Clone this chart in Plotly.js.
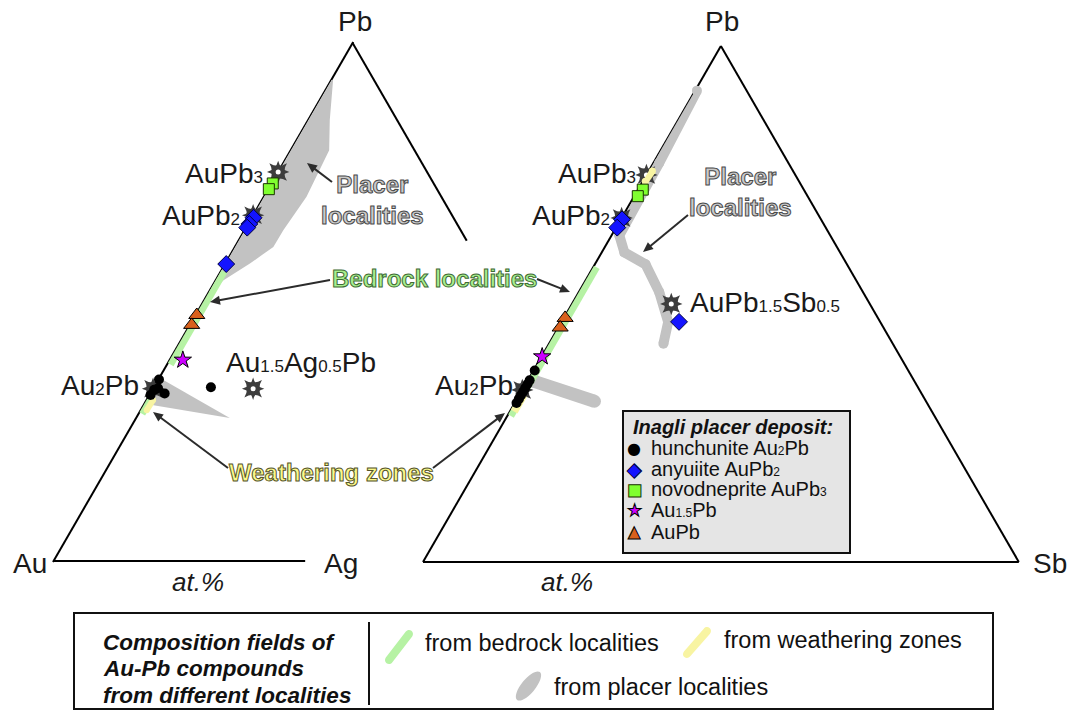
<!DOCTYPE html>
<html><head><meta charset="utf-8">
<script src="https://cdn.plot.ly/plotly-3.0.1.min.js"></script>
<style>html,body{margin:0;padding:0;background:#fff}#chart{width:1073px;height:710px}</style>
</head><body><div id="chart"></div>
<script>
// ===== DATA: a = Pb fraction, c = Ag (left) or Sb (right) fraction; Au = 1 - a - c =====
// ---- Left diagram: Au-Pb-Ag ----
const agHunchuniteA = [0.351, 0.334, 0.324, 0.321, 0.331, 0.336];
const agHunchuniteC = [0.001, 0.008, 0.024, 0.002, 0.003, 0.095];
const agAnyuiiteA = [0.662, 0.650, 0.643, 0.573];
const agAnyuiiteC = [0.003, 0.002, 0.002, 0.002];
const agNovodnepriteA = [0.728, 0.717];
const agNovodnepriteC = [0.002, 0.001];
const agAu15PbA = [0.3885];
const agAu15PbC = [0.022];
const agAuPbA = [0.475, 0.456];
const agAuPbC = [0.002, 0.003];
const agIdealA = [0.75, 0.6667, 0.3333, 0.3333];   // AuPb3, AuPb2, Au2Pb, Au1.5Ag0.5Pb
const agIdealC = [0, 0, 0, 0.1667];
const agPlacerFieldA = [0.927, 0.850, 0.792, 0.7025, 0.638, 0.606, 0.574, 0.542, 0.519, 0.519, 0.927];
const agPlacerFieldC = [0.003, 0.036, 0.064, 0.071, 0.0646, 0.064, 0.041, 0.013, 0.005, 0, 0];
const agPlacerWedgeA = [0.354, 0.277, 0.302, 0.354];
const agPlacerWedgeC = [0.001, 0.156, 0.014, 0.001];
const agBedrock1A = [0.5615, 0.3827];
const agBedrock1C = [0, 0];
const agBedrock2A = [0.319, 0.288];
const agBedrock2C = [0, 0];
const agWeatherA = [0.3115, 0.292];
const agWeatherC = [0.011, 0.010];
const agEdgeBottomA = [0, 0];      // drawn part of the Au-Ag side
const agEdgeBottomC = [0, 0.42];
const agEdgeRightA = [1, 0.619];   // drawn part of the Pb-Ag side
const agEdgeRightC = [0, 0.381];

// ---- Right diagram: Au-Pb-Sb ----
const sbHunchuniteA = [0.371, 0.352, 0.345, 0.337, 0.330, 0.323, 0.316, 0.308];
const sbHunchuniteC = [0.002, 0.003, 0.003, 0.003, 0.003, 0.003, 0.003, 0.003];
const sbAnyuiiteA = [0.664, 0.648, 0.4654];
const sbAnyuiiteC = [0.002, 0.002, 0.197];
const sbNovodnepriteA = [0.7217, 0.709];
const sbNovodnepriteC = [0.008, 0.006];
const sbAu15PbA = [0.398];
const sbAu15PbC = [0.001];
const sbAuPbA = [0.473, 0.4544];
const sbAuPbC = [0.002, 0.003];
const sbIdealA = [0.75, 0.6667, 0.3333, 0.5];      // AuPb3, AuPb2, Au2Pb, AuPb1.5Sb0.5
const sbIdealC = [0, 0, 0, 0.1667];
const sbPlacer1A = [0.9135, 0.773, 0.633, 0.600, 0.577, 0.523, 0.465, 0.423];
const sbPlacer1C = [0.003, 0.0097, 0.013, 0.038, 0.085, 0.135, 0.179, 0.192];
const sbPlacer2A = [0.350, 0.3115];
const sbPlacer2C = [0.0116, 0.132];
const sbBedrockA = [0.574, 0.286];
const sbBedrockC = [0, 0];
const sbWeather1A = [0.758, 0.738];
const sbWeather1C = [0.006, 0.004];
const sbWeather2A = [0.325, 0.293];
const sbWeather2C = [0.004, 0.004];

// ---- text ----
// formulas as [element, count, element, count, ...]; count '' = no subscript
const mineralLabels = [['hunchunite Au', '2', 'Pb', ''], ['anyuiite AuPb', '2'], ['novodneprite AuPb', '3'], ['Au', '1.5', 'Pb', ''], ['AuPb', '']];
const legendTitle = 'Inagli placer deposit:';
const fieldTitle = ['Composition fields of', 'Au-Pb compounds', 'from different localities'];
const fieldNames = ['from bedrock localities', 'from weathering zones', 'from placer localities'];

// ===== STYLE =====
const W = 1073, H = 710;
const FONT = 'Liberation Sans, Arial, Helvetica, sans-serif';
const GRAY = '#c2c2c2', GREEN = '#b6f2a4', YELLOW = '#f8f4a2', GEAR = '#3d3d3d', ARROW = '#2b2b2b';
const STY = [
  {symbol: 'circle', size: 10, color: '#000'},
  {symbol: 'diamond', size: 13, color: '#1414ff', line: {color: '#000040', width: 1}},
  {symbol: 'square', size: 11, color: '#80ff30', line: {color: '#1a3300', width: 1}},
  {symbol: 'star', size: 13, color: '#cc00ff', line: {color: '#000', width: 1}},
  {symbol: 'triangle-up', size: 14, color: '#d9601c', line: {color: '#000', width: 1}}
];
const GLYPH = [
  {g: '\u25CF', size: 16, color: '#000', stroke: null},
  {g: '\u25C6', size: 19, color: '#1414ff', stroke: '#000040'},
  {g: '\u25A0', size: 16, color: '#80ff30', stroke: '#1a3300'},
  {g: '\u2605', size: 17, color: '#cc00ff', stroke: '#000'},
  {g: '\u25B2', size: 16, color: '#d9601c', stroke: '#000'}
];
// chemical formula with small baseline subscripts
function chem(parts, subSize) {
  let s = '';
  for (let i = 0; i < parts.length; i += 2) {
    s += parts[i];
    if (parts[i + 1]) s += '<span style="font-size:' + subSize + 'px">' + parts[i + 1] + '</span>';
  }
  return s;
}

const traces = [];
function T(sub, a, c, props) {
  traces.push(Object.assign({type: 'scatterternary', subplot: sub, a: a, c: c,
    hoverinfo: 'skip', cliponaxis: false, showlegend: false}, props));
}
function gears(sub, A, C) {
  T(sub, A, C, {mode: 'markers', marker: {symbol: 'star-square', size: 16, color: GEAR}});
  T(sub, A, C, {mode: 'markers', marker: {symbol: 'star-diamond', size: 16, color: GEAR}});
  T(sub, A, C, {mode: 'markers', marker: {symbol: 'circle', size: 11, color: GEAR}});
  T(sub, A, C, {mode: 'markers', marker: {symbol: 'circle', size: 5, color: '#fff'}});
}
function field(sub, A, C) {
  T(sub, A, C, {mode: 'lines', fill: 'toself', fillcolor: GRAY, line: {width: 0, color: GRAY}});
}
function band(sub, A, C, color, w) {      // free-standing band with round ends
  T(sub, A, C, {mode: 'lines+markers', line: {color: color, width: w}, marker: {size: w, color: color}});
}
function edgeBand(sub, A, C, color, w) {  // band lying on a side of the triangle
  T(sub, A, C, {mode: 'lines', line: {color: color, width: w}});
}
function minerals(sub, sets) {
  sets.forEach((s, i) => {
    T(sub, s[0], s[1], {mode: 'markers', marker: STY[i], name: chem(mineralLabels[i], 12)});
  });
}

// left diagram
field('ternary', agPlacerFieldA, agPlacerFieldC);
field('ternary', agPlacerWedgeA, agPlacerWedgeC);
T('ternary', agEdgeBottomA, agEdgeBottomC, {mode: 'lines', line: {color: '#000', width: 4}});
T('ternary', agEdgeRightA, agEdgeRightC, {mode: 'lines', line: {color: '#000', width: 4}});
edgeBand('ternary', agBedrock1A, agBedrock1C, GREEN, 13);
edgeBand('ternary', agBedrock2A, agBedrock2C, GREEN, 13);
band('ternary', agWeatherA, agWeatherC, YELLOW, 6);
gears('ternary', agIdealA, agIdealC);
minerals('ternary', [[agHunchuniteA, agHunchuniteC], [agAnyuiiteA, agAnyuiiteC],
  [agNovodnepriteA, agNovodnepriteC], [agAu15PbA, agAu15PbC], [agAuPbA, agAuPbC]]);

// right diagram
band('ternary2', sbPlacer1A, sbPlacer1C, GRAY, 10);
band('ternary2', sbPlacer2A, sbPlacer2C, GRAY, 13);
edgeBand('ternary2', sbBedrockA, sbBedrockC, GREEN, 13);
gears('ternary2', sbIdealA, sbIdealC);
band('ternary2', sbWeather1A, sbWeather1C, YELLOW, 7);
edgeBand('ternary2', sbWeather2A, sbWeather2C, YELLOW, 11);
minerals('ternary2', [[sbHunchuniteA, sbHunchuniteC], [sbAnyuiiteA, sbAnyuiiteC],
  [sbNovodnepriteA, sbNovodnepriteC], [sbAu15PbA, sbAu15PbC], [sbAuPbA, sbAuPbC]]);

// ===== LAYOUT =====
function axis(show) {
  return {showline: show, linecolor: '#000', linewidth: 2, showgrid: false, showticklabels: false,
    ticks: '', title: {text: ''}, layer: 'below traces', min: 0};
}
const px = x => x / W, py = y => 1 - y / H;

function lab(text, x, y, o) {
  o = o || {};
  return {text: text, x: px(x), y: py(y), xref: 'paper', yref: 'paper', showarrow: false,
    xanchor: o.xa || 'center', yanchor: o.ya || 'middle', align: o.align || 'center',
    font: Object.assign({family: FONT, size: 28, color: '#1a1a1a'}, o.font || {})};
}
function outl(t, col, w) {
  return t.split('|').map(s => '<span style="stroke:' + col + ';stroke-width:' + w + 'px">' + s + '</span>').join('<br>');
}
const S = 17; // subscript size for big labels

const annotations = [
  lab('Pb', 355, 22), lab('Pb', 722, 22),
  lab('Au', 30, 563), lab('Ag', 341, 563), lab('Sb', 1050, 563),
  lab('at.%', 198, 582, {font: {size: 26, style: 'italic'}}),
  lab('at.%', 567, 582, {font: {size: 26, style: 'italic'}}),
  lab(chem(['AuPb', '3'], S), 265, 173, {xa: 'right'}),
  lab(chem(['AuPb', '2'], S), 242, 215, {xa: 'right'}),
  lab(chem(['Au', '2', 'Pb', ''], S), 141, 385, {xa: 'right'}),
  lab(chem(['Au', '1.5', 'Ag', '0.5', 'Pb', ''], S), 224, 362, {xa: 'left'}),
  lab(chem(['AuPb', '3'], S), 638, 173, {xa: 'right'}),
  lab(chem(['AuPb', '2'], S), 612, 215, {xa: 'right'}),
  lab(chem(['Au', '2', 'Pb', ''], S), 515, 385, {xa: 'right'}),
  lab(chem(['AuPb', '1.5', 'Sb', '0.5'], S), 688, 302, {xa: 'left'}),
  lab(outl('Placer|localities', '#4a4a4a', 1), 372, 200, {font: {size: 24, weight: 'bold', color: '#cacaca'}}),
  lab(outl('Placer|localities', '#4a4a4a', 1), 740, 192, {font: {size: 24, weight: 'bold', color: '#cacaca'}}),
  lab(outl('Bedrock localities', '#3f6b35', 1), 434, 279, {font: {size: 24, weight: 'bold', color: '#a8ef8e'}}),
  lab(outl('Weathering zones', '#55552a', 1), 331, 472, {font: {size: 24, weight: 'bold', color: '#fbf98a'}}),
  // bottom box texts
  lab(fieldTitle[0], 101, 642, {xa: 'left', font: {size: 22.5, weight: 'bold', style: 'italic', color: '#111'}}),
  lab(fieldTitle[1], 101, 668.5, {xa: 'left', font: {size: 22.5, weight: 'bold', style: 'italic', color: '#111'}}),
  lab(fieldTitle[2], 101, 695, {xa: 'left', font: {size: 22.5, weight: 'bold', style: 'italic', color: '#111'}}),
  lab(fieldNames[0], 423, 643, {xa: 'left', font: {size: 23.5, color: '#111'}}),
  lab(fieldNames[1], 722, 640, {xa: 'left', font: {size: 23.5, color: '#111'}}),
  lab(fieldNames[2], 552, 687, {xa: 'left', font: {size: 23.5, color: '#111'}}),
  // inset legend
  lab(legendTitle, 631, 427, {xa: 'left', font: {size: 20, weight: 'bold', style: 'italic', color: '#111'}})
];
const legendRows = [448, 468.5, 489, 510, 531.5];
mineralLabels.forEach((n, i) => {
  annotations.push(lab(chem(n, 12), 649, legendRows[i], {xa: 'left', font: {size: 20, color: '#111'}}));
  const g = GLYPH[i];
  const t = g.stroke ? '<span style="stroke:' + g.stroke + ';stroke-width:1px">' + g.g + '</span>' : g.g;
  annotations.push(lab(t, 634, legendRows[i], {font: {family: 'DejaVu Sans', size: g.size, color: g.color}}));
});

// icon / arrow geometry (paper coords)
const K = 0.5523;
function P(x, y) { return px(x).toFixed(5) + ',' + py(y).toFixed(5); }
function capsule(x1, y1, x2, y2, r) {
  const L = Math.hypot(x2 - x1, y2 - y1), ux = (x2 - x1) / L, uy = (y2 - y1) / L, nx = -uy, ny = ux;
  const A = [x1 + r * nx, y1 + r * ny], B = [x2 + r * nx, y2 + r * ny];
  const E2 = [x2 + r * ux, y2 + r * uy], C = [x2 - r * nx, y2 - r * ny];
  const D = [x1 - r * nx, y1 - r * ny], E1 = [x1 - r * ux, y1 - r * uy];
  const k = K * r;
  return 'M' + P(A[0], A[1]) + ' L' + P(B[0], B[1]) +
    ' C' + P(B[0] + k * ux, B[1] + k * uy) + ' ' + P(E2[0] + k * nx, E2[1] + k * ny) + ' ' + P(E2[0], E2[1]) +
    ' C' + P(E2[0] - k * nx, E2[1] - k * ny) + ' ' + P(C[0] + k * ux, C[1] + k * uy) + ' ' + P(C[0], C[1]) +
    ' L' + P(D[0], D[1]) +
    ' C' + P(D[0] - k * ux, D[1] - k * uy) + ' ' + P(E1[0] - k * nx, E1[1] - k * ny) + ' ' + P(E1[0], E1[1]) +
    ' C' + P(E1[0] + k * nx, E1[1] + k * ny) + ' ' + P(A[0] - k * ux, A[1] - k * uy) + ' ' + P(A[0], A[1]) + ' Z';
}
function ellipse(cx, cy, dx, dy, a, b) {
  const L = Math.hypot(dx, dy), ux = dx / L, uy = dy / L, vx = -uy, vy = ux;
  const p = (s, t) => P(cx + s * ux + t * vx, cy + s * uy + t * vy);
  return 'M' + p(a, 0) +
    ' C' + p(a, K * b) + ' ' + p(K * a, b) + ' ' + p(0, b) +
    ' C' + p(-K * a, b) + ' ' + p(-a, K * b) + ' ' + p(-a, 0) +
    ' C' + p(-a, -K * b) + ' ' + p(-K * a, -b) + ' ' + p(0, -b) +
    ' C' + p(K * a, -b) + ' ' + p(a, -K * b) + ' ' + p(a, 0) + ' Z';
}
function arrowShapes(tx, ty, sx, sy) {
  const L = Math.hypot(tx - sx, ty - sy), ux = (tx - sx) / L, uy = (ty - sy) / L, nx = -uy, ny = ux;
  const hl = 10, hw = 4.5, bx = tx - hl * ux, by = ty - hl * uy;
  return [
    {type: 'line', xref: 'paper', yref: 'paper', x0: px(sx), y0: py(sy), x1: px(bx + 2 * ux), y1: py(by + 2 * uy),
      line: {color: ARROW, width: 2}},
    {type: 'path', xref: 'paper', yref: 'paper',
      path: 'M' + P(tx, ty) + ' L' + P(bx + hw * nx, by + hw * ny) + ' L' + P(bx - hw * nx, by - hw * ny) + ' Z',
      fillcolor: ARROW, line: {width: 0}}
  ];
}

const shapes = [
  // bottom legend box
  {type: 'rect', xref: 'paper', yref: 'paper', x0: px(74), x1: px(993), y0: py(709), y1: py(613),
    line: {color: '#111', width: 2}, fillcolor: 'rgba(0,0,0,0)'},
  {type: 'line', xref: 'paper', yref: 'paper', x0: px(369), x1: px(369), y0: py(705), y1: py(622),
    line: {color: '#111', width: 2}},
  {type: 'path', xref: 'paper', yref: 'paper', path: capsule(389, 660, 409, 634, 4),
    fillcolor: GREEN, line: {width: 0}},
  {type: 'path', xref: 'paper', yref: 'paper', path: capsule(687, 654, 707, 631, 4),
    fillcolor: YELLOW, line: {width: 0}},
  {type: 'path', xref: 'paper', yref: 'paper', path: ellipse(528.5, 686, 23, -28, 18, 7),
    fillcolor: GRAY, line: {width: 0}},
  // inset legend box
  {type: 'rect', xref: 'paper', yref: 'paper', x0: px(623), x1: px(850), y0: py(553), y1: py(411),
    line: {color: '#111', width: 2}, fillcolor: '#e5e5e5'}
].concat(
  arrowShapes(307, 163, 332, 182),
  arrowShapes(643, 252, 688, 215),
  arrowShapes(210, 302, 330, 280),
  arrowShapes(570, 292, 537, 279),
  arrowShapes(153, 412, 228, 468),
  arrowShapes(505, 413, 433, 468)
);

const layout = {
  width: W, height: H, margin: {l: 0, r: 0, t: 0, b: 0, pad: 0},
  paper_bgcolor: '#fff', plot_bgcolor: '#fff', font: {family: FONT},
  ternary: {domain: {x: [53 / W, 653.4 / W], y: [py(562), py(42)]}, bgcolor: 'rgba(0,0,0,0)', sum: 1,
    aaxis: axis(true), baxis: axis(false), caxis: axis(false)},
  ternary2: {domain: {x: [423 / W, 1018.8 / W], y: [py(562), py(46)]}, bgcolor: 'rgba(0,0,0,0)', sum: 1,
    aaxis: axis(true), baxis: axis(true), caxis: axis(true)},
  showlegend: false,
  annotations: annotations,
  shapes: shapes
};

Plotly.newPlot('chart', traces, layout, {staticPlot: true, displayModeBar: false});
</script>
</body></html>
